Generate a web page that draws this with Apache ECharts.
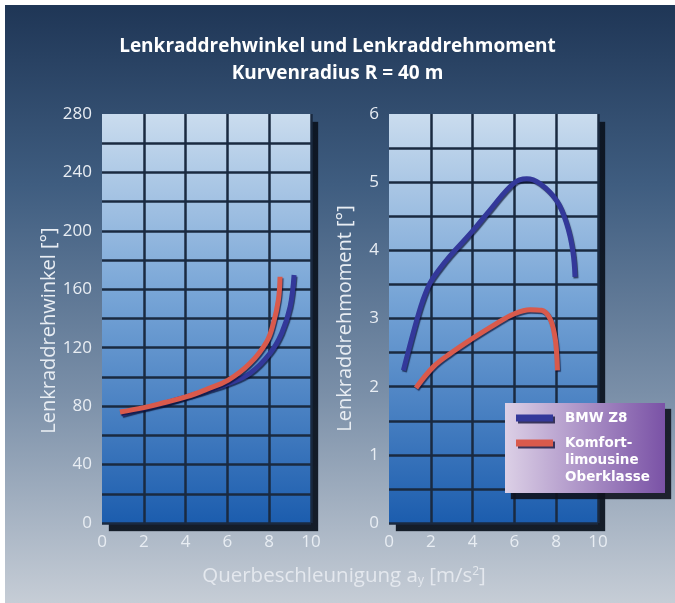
<!DOCTYPE html>
<html>
<head>
<meta charset="utf-8">
<script src="https://cdn.jsdelivr.net/npm/echarts@6/dist/echarts.min.js"></script>
<style>
html,body{margin:0;padding:0;background:#fff;}
#bg{position:absolute;left:5px;top:5px;width:670px;height:598px;background:linear-gradient(to bottom,#1f3656 0%,#3f5d80 30%,#7a8fa8 65%,#c6cdd6 100%);}
#chart{position:absolute;left:0;top:0;width:675px;height:603px;}
</style>
</head>
<body>
<div id="bg"></div>
<div id="chart"></div>
<script>
// ---- data ----
const seriesNames = ['BMW Z8', 'Komfort-\nlimousine\nOberklasse'];
const xTicks = [0, 2, 4, 6, 8, 10];
const angleTicks = [0, 40, 80, 120, 160, 200, 240, 280];
const torqueTicks = [0, 1, 2, 3, 4, 5, 6];

const angleBmwX = [0.94, 2.0, 3.0, 4.05, 5.0, 6.0, 7.08, 8.04, 8.6, 9.0, 9.19];
const angleBmwY = [74.6, 78.5, 82, 86.5, 90.5, 95.2, 102.5, 116.2, 130, 148, 169.8];
const angleKomfX = [0.86, 2.0, 3.0, 4.05, 5.0, 6.04, 7.08, 7.88, 8.2, 8.44, 8.52];
const angleKomfY = [76, 79, 82.5, 86.5, 91.5, 97.8, 109.3, 124.1, 136.7, 152.7, 168.6];

const torqueBmwX = [0.69, 1.24, 1.6, 1.96, 2.4, 2.92, 3.96, 4.83, 5.95, 6.59, 7.22, 8.02, 8.5, 8.79, 8.9];
const torqueBmwY = [2.24, 2.88, 3.25, 3.52, 3.72, 3.92, 4.27, 4.59, 4.98, 5.05, 4.98, 4.73, 4.39, 4.0, 3.61];
const torqueKomfX = [1.29, 2.12, 3.0, 3.96, 5.0, 6.0, 6.75, 7.3, 7.7, 7.94, 8.02, 8.06];
const torqueKomfY = [1.98, 2.29, 2.5, 2.7, 2.9, 3.07, 3.13, 3.12, 3.0, 2.73, 2.49, 2.24];

const zip = (xs, ys) => xs.map((x, i) => [x, ys[i]]);

// ---- styles ----
const FONT = '"Open Sans", "Noto Sans", sans-serif';
const BLUE = '#33389a';
const RED = '#d95a4c';
const GRIDLINE = '#1a2a40';
const plotBg = {
  type: 'linear', x: 0, y: 0, x2: 0, y2: 1,
  colorStops: [
    {offset: 0, color: '#cadcee'},
    {offset: 0.45, color: '#76a4d6'},
    {offset: 1, color: '#1c5dae'}
  ]
};
const gridCommon = {
  show: true, backgroundColor: plotBg, borderWidth: 0,
  shadowColor: 'rgba(12,20,32,0.95)', shadowOffsetX: 7, shadowOffsetY: 8, shadowBlur: 1,
  top: 114, height: 409, width: 209
};
const labelStyle = {color: '#e8edf3', fontSize: 17, fontFamily: FONT};
function xAxis(gi) {
  return {
    type: 'value', gridIndex: gi, min: xTicks[0], max: xTicks[xTicks.length - 1], interval: 2,
    axisLine: {show: false}, axisTick: {show: false},
    axisLabel: Object.assign({margin: 11}, labelStyle),
    splitLine: {show: true, showMinLine: false, lineStyle: {color: GRIDLINE, width: 2.5}}
  };
}
function yAxis(gi, ticks, step, name, gap, namePad) {
  const labelSet = new Set(ticks.map(String));
  return {
    type: 'value', gridIndex: gi, min: ticks[0], max: ticks[ticks.length - 1], interval: step,
    name: name, nameLocation: 'middle', nameGap: gap,
    nameTextStyle: {color: '#e8edf3', fontSize: 20, fontFamily: FONT, padding: namePad},
    axisLine: {show: false}, axisTick: {show: false},
    axisLabel: Object.assign({margin: 10, formatter: v => labelSet.has(String(v)) ? String(v) : ''}, labelStyle),
    splitLine: {show: true, showMaxLine: false, lineStyle: {color: GRIDLINE, width: 2.5}}
  };
}
function line(name, gi, data, color) {
  return {
    type: 'line', name: name, xAxisIndex: gi, yAxisIndex: gi, data: data,
    smooth: 0.4, showSymbol: false, symbol: 'none',
    lineStyle: {color: color, width: 5, shadowColor: 'rgba(10,15,50,0.7)', shadowOffsetX: 1, shadowOffsetY: 1.5, shadowBlur: 1},
    itemStyle: {color: color}, z: 3
  };
}
// legend icons: a bar inside a 37x51 box (mid for single-line label, top for three-line label)
const ICON_MID = 'path://M0,0M0,22L37,22L37,29L0,29ZM37,51';
const ICON_TOP = 'path://M0,0M0,5L37,5L37,12L0,12ZM37,51';

const chart = echarts.init(document.getElementById('chart'), null, {renderer: 'canvas'});
chart.setOption({
  backgroundColor: 'transparent',
  animation: false,
  title: [{
    text: 'Lenkraddrehwinkel und Lenkraddrehmoment\nKurvenradius R = 40 m',
    left: 'center', top: 28,
    textStyle: {color: '#ffffff', fontSize: 19, fontWeight: 'bold', lineHeight: 27, fontFamily: FONT}
  }, {
    text: '{t|Querbeschleunigung a}{s|y}{t| [m/s}{p|2}{t|]}',
    left: 339, textAlign: 'center', top: 561,
    textStyle: {
      fontWeight: 'normal',
      rich: {
        t: {color: '#e4e8ee', fontSize: 20.5, fontWeight: 'normal', fontFamily: FONT},
        s: {color: '#e4e8ee', fontSize: 12, fontWeight: 'normal', fontFamily: FONT, verticalAlign: 'bottom', padding: [9, 0, 0, 0]},
        p: {color: '#e4e8ee', fontSize: 12, fontWeight: 'normal', fontFamily: FONT, verticalAlign: 'top', padding: [0, 0, 9, 0]}
      }
    }
  }],
  graphic: [{
    type: 'rect', left: 505, top: 403, z: 50,
    shape: {width: 160, height: 90},
    style: {
      fill: {type: 'linear', x: 0, y: 0, x2: 1, y2: 0,
        colorStops: [{offset: 0, color: '#dcd0e6'}, {offset: 1, color: '#7a52a6'}]},
      shadowColor: 'rgba(15,18,30,0.9)', shadowOffsetX: 6, shadowOffsetY: 6, shadowBlur: 1
    }
  }],
  grid: [
    Object.assign({left: 102}, gridCommon),
    Object.assign({left: 389}, gridCommon)
  ],
  xAxis: [xAxis(0), xAxis(1)],
  yAxis: [
    yAxis(0, angleTicks, 20, 'Lenkraddrehwinkel [°]', 38, [0, 24, 0, 0]),
    yAxis(1, torqueTicks, 0.5, 'Lenkraddrehmoment [°]', 34, [0, 0, 0, 0])
  ],
  legend: {
    z: 60, zlevel: 0,
    data: [
      {name: seriesNames[0], icon: ICON_MID},
      {name: seriesNames[1], icon: ICON_TOP}
    ],
    orient: 'vertical', left: 516, top: 392.5,
    padding: 0, itemGap: -9,
    itemWidth: 37, itemHeight: 51,
    textStyle: {
      color: '#ffffff', fontSize: 13.5, fontWeight: 'bold', fontFamily: '"DejaVu Sans", sans-serif', lineHeight: 17,
      padding: [0, 0, 0, 7],
      textShadowColor: '#2c2450', textShadowOffsetX: 1, textShadowOffsetY: 1, textShadowBlur: 0
    },
    itemStyle: {shadowColor: 'rgba(20,20,60,0.8)', shadowOffsetX: 2, shadowOffsetY: 2},
    selectedMode: false
  },
  series: [
    line(seriesNames[0], 0, zip(angleBmwX, angleBmwY), BLUE),
    line(seriesNames[1], 0, zip(angleKomfX, angleKomfY), RED),
    line(seriesNames[0], 1, zip(torqueBmwX, torqueBmwY), BLUE),
    line(seriesNames[1], 1, zip(torqueKomfX, torqueKomfY), RED)
  ]
});
</script>
</body>
</html>
